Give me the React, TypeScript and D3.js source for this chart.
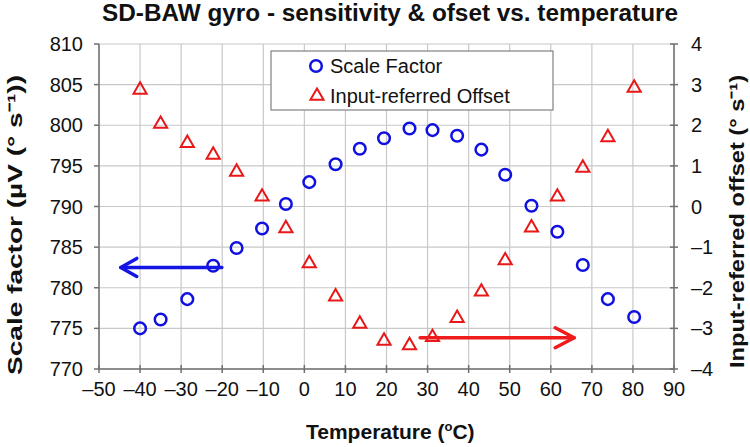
import React from "react";
import * as d3 from "d3";

const temps = [-40, -35, -28.5, -22.2, -16.5, -10.3, -4.5, 1.2, 7.6, 13.5, 19.4, 25.6, 31.2, 37.2, 43.1, 48.9, 55.3, 61.6, 67.8, 73.9, 80.3];
const scaleFactor = [775.0, 776.1, 778.6, 782.7, 784.9, 787.3, 790.3, 793.0, 795.2, 797.1, 798.4, 799.6, 799.4, 798.7, 797.0, 793.9, 790.1, 786.9, 782.8, 778.6, 776.4];
const offset = [2.87, 2.03, 1.56, 1.27, 0.85, 0.24, -0.54, -1.4, -2.22, -2.89, -3.31, -3.42, -3.22, -2.75, -2.1, -1.33, -0.52, 0.24, 0.95, 1.7, 2.92];
const xTicks = [-50, -40, -30, -20, -10, 0, 10, 20, 30, 40, 50, 60, 70, 80, 90];
const leftTicks = [770, 775, 780, 785, 790, 795, 800, 805, 810];
const rightTicks = [-4, -3, -2, -1, 0, 1, 2, 3, 4];
const blueArrow = { from: -20.1, to: -44.7, value: 782.5 };
const redArrow = { from: 28.2, to: 65.7, value: -3.23 };

const W = 750, H = 447;
const L = 99, R = 674, T = 44, B = 369;
const FONT = "'Liberation Sans', Arial, sans-serif";
const BLUE = "#1010e0";
const RED = "#e81818";

const fmt = (v: number) => (v < 0 ? "\u2013" + Math.abs(v) : String(v));

export default function App() {
  const x = d3.scaleLinear().domain([-50, 90]).range([L, R]);
  const yL = d3.scaleLinear().domain([770, 810]).range([B, T]);
  const yR = d3.scaleLinear().domain([-4, 4]).range([B, T]);
  const tri = d3.symbol().type(d3.symbolTriangle).size(75)()!;

  const arrow = (x1: number, x2: number, y: number, color: string, hl: number, hh: number) => {
    const dir = x2 > x1 ? 1 : -1;
    return (
      <g stroke={color} strokeWidth={3.5} fill="none" strokeLinecap="round" strokeLinejoin="round">
        <line x1={x1} y1={y} x2={x2} y2={y} />
        <polyline points={`${x2 - dir * hl},${y - hh} ${x2},${y} ${x2 - dir * hl},${y + hh}`} />
      </g>
    );
  };

  return (
    <svg width={W} height={H} style={{ position: "absolute", left: 0, top: 0, background: "#fff" }} fontFamily={FONT}>
      <rect width={W} height={H} fill="#fff" />
      {/* grid */}
      <g stroke="#c8c8c8" strokeWidth={1.2}>
        {leftTicks.map((t) => (
          <line key={"h" + t} x1={L} x2={R} y1={yL(t)} y2={yL(t)} />
        ))}
        {xTicks.map((t) => (
          <line key={"v" + t} x1={x(t)} x2={x(t)} y1={T} y2={B} />
        ))}
      </g>
      {/* axes */}
      <g stroke="#707070" strokeWidth={1.5}>
        <line x1={L} x2={L} y1={T} y2={B} />
        <line x1={R} x2={R} y1={T} y2={B} />
        <line x1={L} x2={R} y1={B} y2={B} />
        {leftTicks.map((t) => (
          <line key={"lt" + t} x1={L - 5} x2={L} y1={yL(t)} y2={yL(t)} />
        ))}
        {rightTicks.map((t) => (
          <line key={"rt" + t} x1={R - 4} x2={R + 4} y1={yR(t)} y2={yR(t)} />
        ))}
        {xTicks.map((t) => (
          <line key={"xt" + t} x1={x(t)} x2={x(t)} y1={B - 4} y2={B + 4} />
        ))}
      </g>
      {/* tick labels */}
      <g fontSize={20} fill="#111">
        {leftTicks.map((t) => (
          <text key={"ll" + t} x={L - 16} y={yL(t)} dy="0.35em" textAnchor="end">{t}</text>
        ))}
        {rightTicks.map((t) => (
          <text key={"rl" + t} x={R + 17} y={yR(t)} dy="0.35em" textAnchor="start">{fmt(t)}</text>
        ))}
        {xTicks.map((t) => (
          <text key={"xl" + t} x={x(t)} y={B + 27} textAnchor="middle">{fmt(t)}</text>
        ))}
      </g>
      {/* data */}
      <g fill="none" stroke={RED} strokeWidth={2}>
        {temps.map((t, i) => (
          <path key={"tr" + i} d={tri} transform={`translate(${x(t)},${yR(offset[i])})`} />
        ))}
      </g>
      <g fill="none" stroke={BLUE} strokeWidth={2.5}>
        {temps.map((t, i) => (
          <circle key={"c" + i} cx={x(t)} cy={yL(scaleFactor[i])} r={5.8} />
        ))}
      </g>
      {arrow(x(blueArrow.from), x(blueArrow.to), yL(blueArrow.value), "#1515e6", 16, 9)}
      {arrow(x(redArrow.from), x(redArrow.to), yR(redArrow.value), "#ee1c1c", 19, 10)}
      {/* legend */}
      <g>
        <rect x={271} y={51} width={282} height={59} fill="#fff" stroke="#808080" strokeWidth={1.2} />
        <circle cx={316} cy={66} r={5.8} fill="none" stroke={BLUE} strokeWidth={2.5} />
        <text x={330} y={66} dy="0.35em" fontSize={20} fill="#111">Scale Factor</text>
        <path d={tri} transform="translate(317,96)" fill="none" stroke={RED} strokeWidth={2} />
        <text x={330} y={96} dy="0.35em" fontSize={20} fill="#111">Input-referred Offset</text>
      </g>
      {/* titles */}
      <text x={102} y={21} textAnchor="start" fontSize={23} fontWeight="bold" fill="#111" textLength={576} lengthAdjust="spacingAndGlyphs">
        SD-BAW gyro - sensitivity &amp; ofset vs. temperature
      </text>
      <text x={306} y={439} textAnchor="start" fontSize={21} fontWeight="bold" fill="#111">
        Temperature (<tspan fontSize={13} dy={-8}>o</tspan><tspan dy={8}>C)</tspan>
      </text>
      <text transform={`translate(22,375) rotate(-90)`} textAnchor="start" fontSize={21} fontWeight="bold" fill="#111" textLength={300} lengthAdjust="spacingAndGlyphs">
        Scale factor (µV (° s⁻¹))
      </text>
      <text transform={`translate(744,368) rotate(-90)`} textAnchor="start" fontSize={21} fontWeight="bold" fill="#111" textLength={293} lengthAdjust="spacingAndGlyphs">
        Input-referred offset (° s⁻¹)
      </text>
    </svg>
  );
}
